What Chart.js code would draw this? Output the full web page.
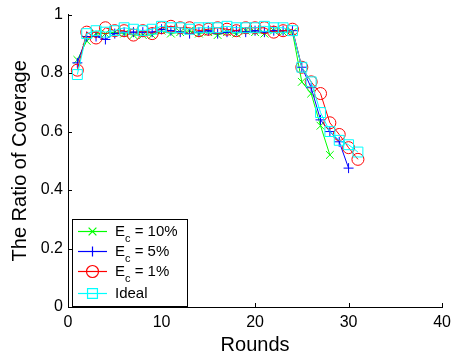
<!DOCTYPE html>
<html>
<head>
<meta charset="utf-8">
<script src="https://cdn.jsdelivr.net/npm/chart.js@4.4.0/dist/chart.umd.min.js"></script>
<style>
  html, body { margin: 0; padding: 0; background: #fff; }
  #wrap { width: 457px; height: 359px; }
</style>
</head>
<body>
<div id="wrap"><canvas id="chart" width="457" height="359"></canvas></div>
<script>
// values (rounds start at 1)
const ec10 = [0.845, 0.91, 0.935, 0.935, 0.94, 0.935, 0.93, 0.93, 0.93, 0.945, 0.935, 0.94, 0.945, 0.935, 0.94, 0.93, 0.94, 0.935, 0.945, 0.94, 0.935, 0.945, 0.94, 0.94, 0.77, 0.73, 0.62, 0.52];
const ec5 = [0.835, 0.925, 0.925, 0.915, 0.935, 0.94, 0.94, 0.94, 0.94, 0.95, 0.945, 0.94, 0.935, 0.94, 0.945, 0.935, 0.94, 0.945, 0.94, 0.945, 0.94, 0.945, 0.945, 0.945, 0.82, 0.75, 0.64, 0.60, 0.565, 0.475];
const ec1 = [0.81, 0.94, 0.92, 0.955, 0.945, 0.945, 0.93, 0.945, 0.935, 0.955, 0.96, 0.955, 0.955, 0.945, 0.95, 0.955, 0.95, 0.945, 0.955, 0.955, 0.955, 0.94, 0.945, 0.95, 0.82, 0.77, 0.73, 0.63, 0.59, 0.545, 0.505];
const ideal = [0.795, 0.935, 0.945, 0.94, 0.945, 0.955, 0.95, 0.945, 0.95, 0.96, 0.955, 0.955, 0.95, 0.955, 0.955, 0.955, 0.96, 0.955, 0.955, 0.955, 0.96, 0.955, 0.955, 0.945, 0.82, 0.77, 0.665, 0.60, 0.57, 0.555, 0.53];

const xTicks = [0, 10, 20, 30, 40];
const yTicks = [0, 0.2, 0.4, 0.6, 0.8, 1];
const legendLabels = [['E', 'c', ' = 10%'], ['E', 'c', ' = 5%'], ['E', 'c', ' = 1%'], ['Ideal', '', '']];

const FONT = 'Helvetica, "Liberation Sans", Arial, sans-serif';

function toPoints(arr) {
    return arr.map((v, i) => ({ x: i + 1, y: v }));
}

const series = [
    { label: 'Ec = 10%', data: ec10, color: 'rgb(0,255,0)', style: 'crossRot', radius: 5.5, order: 4 },
    { label: 'Ec = 5%', data: ec5, color: 'rgb(0,0,255)', style: 'cross', radius: 5, order: 3 },
    { label: 'Ec = 1%', data: ec1, color: 'rgb(255,0,0)', style: 'circle', radius: 6, order: 2 },
    { label: 'Ideal', data: ideal, color: 'rgb(0,255,255)', style: 'rect', radius: 7, order: 1 }
];

function drawMarker(ctx, style, r, x, y) {
    ctx.beginPath();
    if (style === 'circle') {
        ctx.arc(x, y, r, 0, Math.PI * 2);
    } else if (style === 'rect') {
        const s = r / Math.SQRT2;
        ctx.rect(x - s, y - s, 2 * s, 2 * s);
    } else if (style === 'cross') {
        ctx.moveTo(x - r, y); ctx.lineTo(x + r, y);
        ctx.moveTo(x, y - r); ctx.lineTo(x, y + r);
    } else {
        const d = r * Math.SQRT1_2;
        ctx.moveTo(x - d, y - d); ctx.lineTo(x + d, y + d);
        ctx.moveTo(x - d, y + d); ctx.lineTo(x + d, y - d);
    }
    ctx.stroke();
}

// inward tick marks + boxed legend, like the original figure
const extras = {
    id: 'extras',
    afterDraw(chart) {
        const ctx = chart.ctx;
        const xs = chart.scales.x, ys = chart.scales.y;
        const area = chart.chartArea;
        ctx.save();
        ctx.strokeStyle = '#000';
        ctx.lineWidth = 1;
        ctx.beginPath();
        xTicks.forEach(t => {
            const px = Math.round(xs.getPixelForValue(t)) + 0.5;
            ctx.moveTo(px, area.bottom);
            ctx.lineTo(px, area.bottom - 4);
        });
        yTicks.forEach(t => {
            const py = Math.round(ys.getPixelForValue(t)) + 0.5;
            ctx.moveTo(area.left, py);
            ctx.lineTo(area.left + 4, py);
        });
        ctx.stroke();

        // legend box
        const bx = 72, by = 219, bw = 115, bh = 87;
        ctx.fillStyle = '#fff';
        ctx.fillRect(bx, by, bw, bh);
        ctx.strokeStyle = '#000';
        ctx.strokeRect(bx + 0.5, by + 0.5, bw, bh);
        const rows = [231.5, 251.5, 271.5, 293.5];
        series.forEach((s, i) => {
            const y = rows[i];
            ctx.setLineDash([]);
            ctx.globalAlpha = 1;
            ctx.strokeStyle = s.color;
            ctx.lineWidth = 1.2;
            ctx.beginPath();
            ctx.moveTo(78, y); ctx.lineTo(107, y);
            ctx.stroke();
            drawMarker(ctx, s.style, s.radius, 92.5, y);
            const parts = legendLabels[i];
            ctx.fillStyle = '#000';
            ctx.textBaseline = 'middle';
            ctx.textAlign = 'left';
            ctx.font = '15px ' + FONT;
            let x = 115;
            ctx.fillText(parts[0], x, y);
            x += ctx.measureText(parts[0]).width;
            if (parts[1]) {
                ctx.font = '11px ' + FONT;
                ctx.fillText(parts[1], x, y + 7);
                x += ctx.measureText(parts[1]).width;
                ctx.font = '15px ' + FONT;
                ctx.fillText(parts[2], x, y);
            }
        });
        ctx.restore();
    }
};

const ctx = document.getElementById('chart').getContext('2d');
const chart = new Chart(ctx, {
    type: 'line',
    data: {
        datasets: series.map(s => ({
            label: s.label,
            data: toPoints(s.data),
            borderColor: s.color,
            backgroundColor: 'rgba(0,0,0,0)',
            borderWidth: 1,
            pointStyle: s.style,
            pointRadius: s.radius,
            pointBorderWidth: 1,
            pointBorderColor: s.color,
            pointBackgroundColor: 'rgba(0,0,0,0)',
            fill: false,
            tension: 0,
            order: s.order
        }))
    },
    options: {
        responsive: false,
        animation: false,
        events: [],
        layout: { padding: { top: 13, right: 12, left: 0, bottom: 0 } },
        plugins: {
            legend: { display: false },
            tooltip: { enabled: false }
        },
        scales: {
            x: {
                type: 'linear',
                min: 0,
                max: 40,
                ticks: { stepSize: 10, color: '#000', font: { family: FONT, size: 16 }, padding: 6, maxRotation: 0 },
                grid: { display: false, drawTicks: false },
                border: { display: true, color: '#000', width: 1 },
                title: { display: true, text: 'Rounds', color: '#000', font: { family: FONT, size: 20 }, padding: { bottom: 2, top: 0 } },
                afterFit: s => { s.height = 52; }
            },
            y: {
                type: 'linear',
                min: 0,
                max: 1,
                ticks: {
                    stepSize: 0.2, color: '#000', font: { family: FONT, size: 16 }, padding: 5,
                    callback: v => String(Number(v.toFixed(1)))
                },
                grid: { display: false, drawTicks: false },
                border: { display: true, color: '#000', width: 1 },
                title: { display: true, text: 'The Ratio of Coverage', color: '#000', font: { family: FONT, size: 20 }, padding: { top: 8, bottom: 0 } },
                afterFit: s => { s.width = 68; }
            }
        }
    },
    plugins: [extras]
});
</script>
</body>
</html>
